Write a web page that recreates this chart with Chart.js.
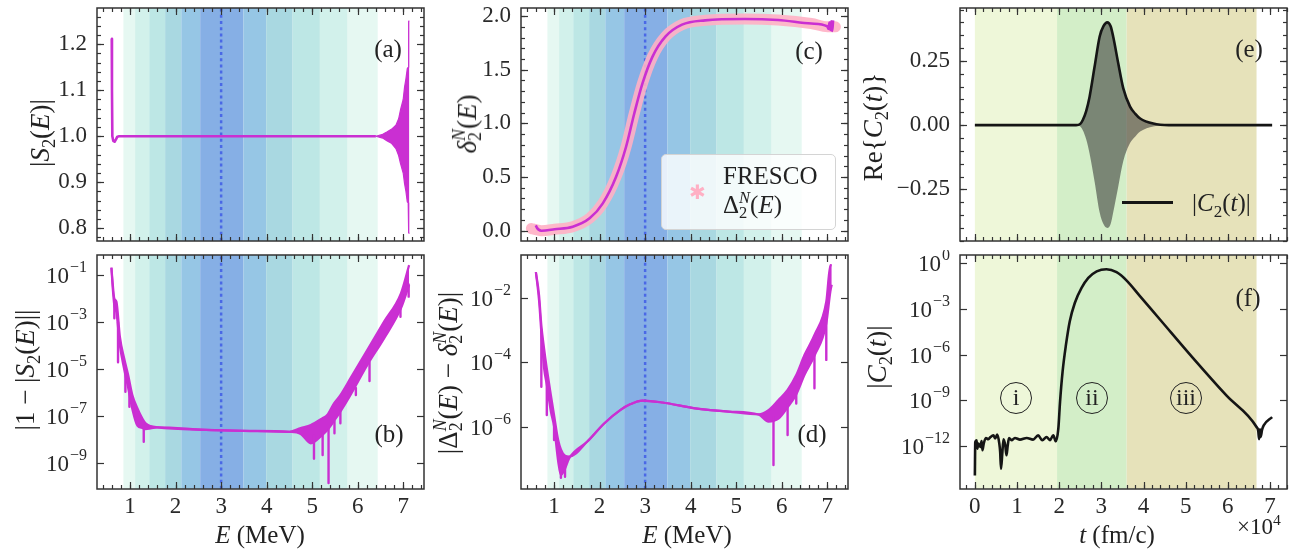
<!DOCTYPE html>
<html>
<head>
<meta charset="utf-8">
<script src="https://cdn.jsdelivr.net/npm/chart.js@4.4.0/dist/chart.umd.min.js"></script>
<style>
  body { margin: 0; width: 1295px; height: 550px; position: relative; overflow: hidden; background: #fff;
         font-family: 'Liberation Serif', serif; color: #222; }
  canvas { position: absolute; }
  .t { position: absolute; white-space: nowrap; font-size: 25px; line-height: 1; transform: translate(-50%, -50%); }
  .r { transform: translate(-50%, -50%) rotate(-90deg); font-size: 27px; }
  .l { transform: translate(0, -50%); }
  sub, sup { font-size: 0.68em; line-height: 0; }
  .ss { display: inline-block; font-size: 0.66em; line-height: 0.9; vertical-align: -0.3em; }
  .ss span { display: block; }
  .circ { position: absolute; width: 30px; height: 30px; border: 1.4px solid #222; border-radius: 50%;
          transform: translate(-50%, -50%); font-size: 24px; line-height: 29px; text-align: center; }
  .leg { position: absolute; left: 661px; top: 154px; width: 173px; height: 74px; border: 1px solid #d4d4d4;
         border-radius: 5px; background: rgba(255,255,255,0.8); }
</style>
</head>
<body>
<script>
// ---------- shared ----------
const MAG = '#ca2fd2';
const PINK = 'rgba(255,176,196,0.9)';
const DOT = '#4a68e6';
const E0 = 3.0;

// shaded energy windows
const bandEdges = [0.853, 1.11, 1.42, 1.77, 2.125, 2.54, 3.49, 3.99, 4.57, 5.17, 5.78, 6.44];
const bandColors = ['#e6f8f2', '#d2f1eb', '#bde7e5', '#a9d8e1', '#96c6e5', '#86afe5',
                    '#96c6e5', '#a9d8e1', '#bde7e5', '#d2f1eb', '#e6f8f2'];
// time regions (units of 1e4 fm/c)
const tEdges = [0, 1.95, 3.6, 6.68];
const tColors = ['#eef7d9', '#d3eec8', '#e6e2ba'];

const energyTicks = [1, 2, 3, 4, 5, 6, 7];
const energyTickLabels = ['1', '2', '3', '4', '5', '6', '7'];
const timeTicks = [0, 1, 2, 3, 4, 5, 6, 7];
const timeTickLabels = ['0', '1', '2', '3', '4', '5', '6', '7'];

// ---------- (a) |S2(E)| ----------
const aE = [0.597, 0.602, 0.61, 0.63, 0.66, 0.69, 0.72, 0.76, 6.40];
const aS = [1.212, 1.10, 1.0, 0.99, 0.988, 0.993, 0.999, 1.0, 1.0];
const aBandE = [6.40, 6.55, 6.64, 6.74, 6.84, 6.90, 6.94, 7.00, 7.03, 7.06, 7.09, 7.11, 7.12, 7.135];
const aHi = [1.0, 1.004, 1.009, 1.015, 1.024, 1.038, 1.057, 1.08, 1.107, 1.125, 1.147, 1.15, 1.25, 1.251];
const aLo = [1.0, 0.996, 0.990, 0.985, 0.973, 0.958, 0.941, 0.92, 0.897, 0.88, 0.857, 0.855, 0.79, 0.788];
const aTicks = [0.8, 0.9, 1.0, 1.1, 1.2];
const aTickLabels = ['0.8', '0.9', '1.0', '1.1', '1.2'];

// ---------- (b) |1-|S2(E)|| (decade exponents) ----------
const bE = [0.59, 0.62, 0.654, 0.70, 0.776, 0.87, 0.958, 1.05, 1.16, 1.27, 1.34, 1.45, 1.6, 2.67, 3.5, 4.5,
            4.75, 4.97, 5.22, 5.33, 5.48, 5.62, 5.84, 6.21, 6.58, 6.95, 7.13];
const bHiExp = [-0.69, -1.40, -2.0, -2.13, -3.62, -4.54, -5.25, -6.1, -6.66, -7.1, -7.3, -7.42, -7.47, -7.58, -7.62, -7.66,
                -7.5, -7.37, -7.09, -6.95, -6.45, -6.1, -5.39, -4.19, -2.98, -1.78, -0.58];
const bLoExp = [-0.69, -1.6, -2.3, -2.6, -4.0, -5.0, -5.8, -6.7, -7.4, -7.5, -7.55, -7.52, -7.47, -7.58, -7.62, -7.66,
                -7.75, -8.15, -7.8, -7.6, -7.2, -6.8, -6.1, -4.83, -3.69, -2.42, -1.42];
const bSpikeE = [0.654, 0.735, 0.897, 0.985, 1.30, 5.04, 5.23, 5.36, 5.49, 5.62, 5.96, 6.26, 6.94, 7.12];
const bSpikeTop = [-2.2, -3.0, -5.0, -5.9, -7.4, -7.8, -7.7, -7.5, -7.2, -6.8, -5.8, -4.7, -2.4, -1.4];
const bSpikeBot = [-2.84, -4.71, -5.96, -6.6, -8.08, -8.80, -8.65, -9.84, -7.72, -7.3, -6.1, -5.5, -2.77, -1.92];
const bTicks = [1e-9, 1e-7, 1e-5, 1e-3, 1e-1];
const bTickExps = ['\u22129', '\u22127', '\u22125', '\u22123', '\u22121'];

// ---------- (c) delta_2^N(E) ----------
const cE = [0.597, 0.62, 0.66, 0.72, 1.01, 1.41, 1.78, 2.07, 2.36, 2.58, 2.76, 2.94, 3.16, 3.45, 3.81, 4.32,
            5.19, 5.92, 6.65, 7.00, 7.03, 7.05, 7.07, 7.09, 7.11, 7.13];
const cD = [0.05, 0.03, 0.01, 0.0, 0.013, 0.037, 0.115, 0.255, 0.50, 0.78, 1.09, 1.37, 1.62, 1.81, 1.92, 1.96,
            1.973, 1.963, 1.93, 1.905, 1.88, 1.94, 1.87, 1.95, 1.86, 1.96];
const frescoE = [0.50, 0.60, 0.72, 1.01, 1.41, 1.78, 2.07, 2.36, 2.58, 2.76, 2.94, 3.16, 3.45, 3.81, 4.32,
                 5.19, 5.92, 6.65, 7.01, 7.18];
const frescoD = [0.02, 0.01, 0.0, 0.013, 0.037, 0.115, 0.255, 0.50, 0.78, 1.09, 1.37, 1.62, 1.81, 1.92, 1.96,
                 1.973, 1.963, 1.93, 1.90, 1.90];
const cTicks = [0, 0.5, 1.0, 1.5, 2.0];
const cTickLabels = ['0.0', '0.5', '1.0', '1.5', '2.0'];

// ---------- (d) |Delta - delta| (decade exponents) ----------
const dE = [0.60, 0.67, 0.72, 0.78, 0.84, 0.93, 1.0, 1.09, 1.15, 1.24, 1.33, 1.73, 2.10, 2.46, 2.68, 2.94, 3.38,
            4.10, 4.83, 5.49, 5.71, 5.93, 6.13, 6.32, 6.50, 6.72, 6.98, 7.07, 7.10];
const dHiExp = [-1.21, -1.92, -2.85, -3.57, -4.19, -5.02, -5.64, -6.41, -6.70, -6.90, -6.93, -6.46, -5.90, -5.48, -5.30,
                -5.19, -5.25, -5.43, -5.53, -5.62, -5.49, -5.17, -4.86, -4.40, -3.78, -3.16, -2.12, -0.99, -1.0];
const dLoExp = [-1.21, -2.10, -3.10, -4.19, -4.70, -5.54, -6.00, -7.08, -7.50, -7.30, -6.98, -6.46, -5.90, -5.48, -5.30,
                -5.19, -5.25, -5.43, -5.53, -5.62, -5.84, -5.75, -5.40, -5.00, -4.40, -3.80, -2.80, -1.81, -1.6];
const dSpikeE = [0.72, 0.84, 1.0, 1.15, 1.24, 5.82, 6.13, 6.32, 6.72, 6.98];
const dSpikeTop = [-3.0, -4.5, -5.9, -7.2, -7.1, -5.7, -5.3, -4.9, -3.7, -2.7];
const dSpikeBot = [-4.76, -5.64, -6.41, -7.58, -7.55, -7.19, -6.26, -5.28, -4.81, -3.93];
const dTicks = [1e-6, 1e-4, 1e-2];
const dTickExps = ['\u22126', '\u22124', '\u22122'];

// ---------- (e) Re{C2(t)} and |C2(t)| ----------
const eT = [0.0, 2.40, 2.50, 2.56, 2.64, 2.72, 2.84, 2.96, 3.05, 3.14, 3.22, 3.28, 3.40, 3.52, 3.68, 3.80, 3.92, 4.23, 4.6, 7.05];
const eAbs = [0, 0, 0.005, 0.02, 0.055, 0.11, 0.228, 0.345, 0.385, 0.40, 0.385, 0.345, 0.241, 0.143, 0.072, 0.045, 0.026, 0.006, 0, 0];
const eReLo = [0, 0, -0.005, -0.02, -0.055, -0.11, -0.22, -0.34, -0.385, -0.40, -0.385, -0.34, -0.24, -0.14, -0.07, -0.045, -0.025, -0.005, 0, 0];
const reTicks = [-0.25, 0, 0.25];
const reTickLabels = ['\u22120.25', '0.00', '0.25'];

// ---------- (f) |C2(t)| (decade exponents) ----------
const fT = [0.0, 0.0095, 0.04, 0.06, 0.08, 0.13, 0.16, 0.18, 0.21, 0.26, 0.32, 0.37, 0.44, 0.48, 0.53, 0.58, 0.60, 0.62,
            0.65, 0.68, 0.72, 0.75, 0.78, 0.81, 0.87, 0.95, 1.07, 1.23, 1.38, 1.50, 1.60, 1.70, 1.78, 1.86, 1.92,
            1.98, 2.02, 2.08, 2.16, 2.25, 2.37, 2.53, 2.69, 2.89, 3.12, 3.36, 3.60, 3.91, 4.39, 5.18, 5.97,
            6.68, 6.72, 6.74, 6.76, 6.78, 6.81, 6.85, 7.05];
const fExp = [-13.93, -11.74, -11.62, -12.17, -11.84, -12.06, -11.68, -12.28, -11.84, -11.47, -11.56, -11.41, -11.30,
              -11.51, -11.25, -11.84, -12.39, -13.49, -12.50, -11.56, -11.95, -12.61, -11.95, -11.47, -11.62, -11.47,
              -11.58, -11.47, -11.58, -11.30, -11.62, -11.41, -11.62, -11.30, -11.69,
              -10.85, -9.10, -7.13, -5.37, -3.83, -2.62, -1.63, -0.97, -0.54, -0.40, -0.60, -1.15, -2.15, -3.70,
              -6.25, -8.70, -10.75, -11.0, -11.55, -10.9, -11.4, -10.95, -10.65, -10.1];
const fTicks = [1e-12, 1e-9, 1e-6, 1e-3, 1];
const fTickExps = ['\u221212', '\u22129', '\u22126', '\u22123', '0'];

// ---------- helpers ----------
const xy = (xs, ys) => xs.map((x, i) => ({ x: x, y: ys[i] }));
const xyExp = (xs, es) => xs.map((x, i) => ({ x: x, y: Math.pow(10, es[i]) }));
function spikes(xs, tops, bots, log) {
  const out = [];
  const f = v => (log ? Math.pow(10, v) : v);
  xs.forEach((x, i) => { out.push({ x: x, y: f(tops[i]) }, { x: x, y: f(bots[i]) }, { x: x, y: null }); });
  return out;
}
function steps(a, b, d) {
  const out = [];
  for (let v = a; v <= b + 1e-9; v += d) out.push(Math.round(v * 1000) / 1000);
  return out;
}
const energyMinor = steps(0.4, 7.4, 0.2);
const timeMinor = steps(-0.2, 7.4, 0.2);

const FONT = "'Liberation Serif', serif";
Chart.defaults.font.family = FONT;
Chart.defaults.font.size = 23;
Chart.defaults.color = '#2a2a2a';

const bandsPlugin = {
  id: 'bands',
  beforeDatasetsDraw(chart, args, o) {
    const { ctx, chartArea: a, scales: { x } } = chart;
    ctx.save();
    ctx.beginPath(); ctx.rect(a.left, a.top, a.width, a.height); ctx.clip();
    for (let i = 0; i < o.colors.length; i++) {
      const p1 = x.getPixelForValue(o.edges[i]), p2 = x.getPixelForValue(o.edges[i + 1]);
      ctx.fillStyle = o.colors[i];
      ctx.fillRect(p1, a.top, p2 - p1, a.height);
    }
    ctx.restore();
  }
};

const frameTicks = {
  id: 'frameTicks',
  afterDatasetsDraw(chart, args, o) {
    const { ctx, chartArea: a, scales: { x, y } } = chart;
    ctx.save();
    ctx.strokeStyle = '#333';
    ctx.lineWidth = 1.2;
    const seg = (x1, y1, x2, y2) => { ctx.beginPath(); ctx.moveTo(x1, y1); ctx.lineTo(x2, y2); ctx.stroke(); };
    const xs = (vals, len) => vals.forEach(v => {
      if (v < x.min || v > x.max) return;
      const p = Math.round(x.getPixelForValue(v)) + 0.5;
      seg(p, a.bottom, p, a.bottom - len); seg(p, a.top, p, a.top + len);
    });
    const ys = (vals, len) => vals.forEach(v => {
      if (v < y.min || v > y.max) return;
      const p = Math.round(y.getPixelForValue(v)) + 0.5;
      seg(a.left, p, a.left + len, p); seg(a.right, p, a.right - len, p);
    });
    xs(o.xMinor || [], 4);
    xs(x.ticks.map(t => t.value), 7);
    ys(o.yMinor || [], 4);
    ys(y.ticks.map(t => t.value), 7);
    ctx.lineWidth = 1.5;
    ctx.strokeRect(a.left, a.top, a.width, a.height);
    ctx.restore();
  }
};

// "10^n" labels for log axes, placed at the scale's own tick pixels
const powLabels = {
  id: 'powLabels',
  afterDraw(chart, args, o) {
    if (!o.exps) return;
    const { ctx, chartArea: a, scales: { y } } = chart;
    ctx.save();
    ctx.fillStyle = '#2a2a2a';
    ctx.textAlign = 'left';
    ctx.textBaseline = 'alphabetic';
    y.ticks.forEach((t, i) => {
      const p = y.getPixelForValue(t.value);
      ctx.font = '16px ' + FONT;
      const we = ctx.measureText(o.exps[i]).width;
      ctx.font = '23px ' + FONT;
      const wb = ctx.measureText('10').width;
      const right = a.left - 10;
      ctx.fillText('10', right - we - wb - 1, p + 8);
      ctx.font = '16px ' + FONT;
      ctx.fillText(o.exps[i], right - we, p - 3);
    });
    ctx.restore();
  }
};

function panel(cell, area, c) {
  const cv = document.createElement('canvas');
  cv.width = cell.w; cv.height = cell.h;
  cv.style.left = cell.x + 'px'; cv.style.top = cell.y + 'px';
  document.body.appendChild(cv);
  const axisX = {
    type: 'linear', min: c.xMin, max: c.xMax,
    afterBuildTicks: s => { s.ticks = c.xTicks.map(v => ({ value: v })); },
    ticks: { display: c.xLabels, callback: (v, i) => c.xTickLabels[i], padding: 4, maxRotation: 0, autoSkip: false },
    grid: { display: false, drawTicks: false }, border: { display: false },
    afterFit: s => { s.height = cell.y + cell.h - area.b; s.paddingLeft = 0; s.paddingRight = 0; }
  };
  const axisY = {
    type: c.yType, min: c.yMin, max: c.yMax,
    afterBuildTicks: s => { s.ticks = c.yTicks.map(v => ({ value: v })); },
    ticks: { display: !c.yExps, callback: (v, i) => (c.yTickLabels ? c.yTickLabels[i] : ''), padding: 10, autoSkip: false },
    grid: { display: false, drawTicks: false }, border: { display: false },
    afterFit: s => { s.width = area.l - cell.x; s.paddingTop = 0; s.paddingBottom = 0; }
  };
  return new Chart(cv, {
    type: 'line',
    data: { datasets: c.datasets },
    options: {
      responsive: false, animation: false, devicePixelRatio: 1,
      layout: { padding: { left: 0, top: area.t - cell.y, right: cell.x + cell.w - area.r, bottom: 0 } },
      elements: { point: { radius: 0 }, line: { borderJoinStyle: 'round' } },
      plugins: {
        legend: { display: false }, tooltip: { enabled: false },
        bands: { edges: c.bandEdges, colors: c.bandColors },
        frameTicks: { xMinor: c.xMinor, yMinor: c.yMinor },
        powLabels: { exps: c.yExps }
      },
      scales: { x: axisX, y: axisY }
    },
    plugins: [bandsPlugin, frameTicks, powLabels]
  });
}

const vline = (ymin, ymax) => ({
  data: [{ x: E0, y: ymin }, { x: E0, y: ymax }], borderColor: DOT, borderWidth: 2.5,
  borderDash: [3, 3.2], fill: false, order: 10
});
const band = (hi, lo, col, w, mono) => ([
  { data: hi, borderColor: col, borderWidth: w, backgroundColor: col, fill: '+1', order: 3,
    cubicInterpolationMode: mono ? 'monotone' : 'default' },
  { data: lo, borderColor: col, borderWidth: w, fill: false, order: 3,
    cubicInterpolationMode: mono ? 'monotone' : 'default' }
]);

const colE = { xMin: 0.273, xMax: 7.457, xTicks: energyTicks, xTickLabels: energyTickLabels, xMinor: energyMinor,
               bandEdges: bandEdges, bandColors: bandColors };
const colT = { xMin: -0.3525, xMax: 7.4025, xTicks: timeTicks, xTickLabels: timeTickLabels, xMinor: timeMinor,
               bandEdges: tEdges, bandColors: tColors };

// (a)
panel({ x: 0, y: 0, w: 430, h: 250 }, { l: 97, t: 8, r: 424, b: 241 }, Object.assign({}, colE, {
  xLabels: false, yType: 'linear', yMin: 0.772, yMax: 1.279, yTicks: aTicks, yTickLabels: aTickLabels,
  yMinor: steps(0.78, 1.26, 0.02),
  datasets: [
    vline(0.772, 1.279),
    ...band(xy(aBandE, aHi), xy(aBandE, aLo), MAG, 1.2, false),
    { data: xy(aE, aS), borderColor: MAG, borderWidth: 2.6, fill: false, order: 1 }
  ]
}));

// (b)
panel({ x: 0, y: 250, w: 430, h: 300 }, { l: 97, t: 255, r: 424, b: 489 }, Object.assign({}, colE, {
  xLabels: true, yType: 'logarithmic', yMin: Math.pow(10, -10.09), yMax: Math.pow(10, -0.15),
  yTicks: bTicks, yExps: bTickExps,
  datasets: [
    vline(Math.pow(10, -10.09), Math.pow(10, -0.15)),
    ...band(xyExp(bE, bHiExp), xyExp(bE, bLoExp), MAG, 2.2, true),
    { data: spikes(bSpikeE, bSpikeTop, bSpikeBot, true), borderColor: MAG, borderWidth: 2.4, fill: false, order: 1 }
  ]
}));

// (c)
panel({ x: 430, y: 0, w: 430, h: 250 }, { l: 521, t: 8, r: 848, b: 241 }, Object.assign({}, colE, {
  xLabels: false, yType: 'linear', yMin: -0.096, yMax: 2.075, yTicks: cTicks, yTickLabels: cTickLabels,
  yMinor: steps(-0.0, 2.0, 0.1),
  datasets: [
    vline(-0.096, 2.075),
    { data: xy(frescoE, frescoD), borderColor: PINK, borderWidth: 11, borderCapStyle: 'round', fill: false,
      cubicInterpolationMode: 'monotone', order: 5 },
    { data: xy(cE, cD), borderColor: MAG, borderWidth: 2.6, fill: false, cubicInterpolationMode: 'monotone', order: 1 }
  ]
}));

// (d)
panel({ x: 430, y: 250, w: 430, h: 300 }, { l: 521, t: 255, r: 848, b: 489 }, Object.assign({}, colE, {
  xLabels: true, yType: 'logarithmic', yMin: Math.pow(10, -7.93), yMax: Math.pow(10, -0.68),
  yTicks: dTicks, yExps: dTickExps,
  datasets: [
    vline(Math.pow(10, -7.93), Math.pow(10, -0.68)),
    ...band(xyExp(dE, dHiExp), xyExp(dE, dLoExp), MAG, 2.2, true),
    { data: spikes(dSpikeE, dSpikeTop, dSpikeBot, true), borderColor: MAG, borderWidth: 2.4, fill: false, order: 1 }
  ]
}));

// (e)
panel({ x: 860, y: 0, w: 435, h: 250 }, { l: 960, t: 8, r: 1287, b: 241 }, Object.assign({}, colT, {
  xLabels: false, yType: 'linear', yMin: -0.451, yMax: 0.456, yTicks: reTicks, yTickLabels: reTickLabels,
  yMinor: steps(-0.45, 0.45, 0.05),
  datasets: [
    ...band(xy(eT, eAbs), xy(eT, eReLo), 'rgba(50,50,50,0.55)', 0, true),
    { data: xy(eT, eAbs), borderColor: '#151515', borderWidth: 2.6, fill: false, cubicInterpolationMode: 'monotone', order: 1 }
  ]
}));

// (f)
panel({ x: 860, y: 250, w: 435, h: 300 }, { l: 960, t: 255, r: 1287, b: 489 }, Object.assign({}, colT, {
  xLabels: true, yType: 'logarithmic', yMin: Math.pow(10, -14.82), yMax: Math.pow(10, 0.53),
  yTicks: fTicks, yExps: fTickExps,
  datasets: [
    { data: xyExp(fT, fExp), borderColor: '#151515', borderWidth: 2.6, fill: false, cubicInterpolationMode: 'monotone', order: 1 }
  ]
}));
</script>

<!-- axis titles and annotations -->
<div class="t r" style="left:40px;top:133px">|<i>S</i><sub>2</sub>(<i>E</i>)|</div>
<div class="t r" style="left:25px;top:370px">|1 − |<i>S</i><sub>2</sub>(<i>E</i>)||</div>
<div class="t" style="left:260px;top:534px"><i>E</i> (MeV)</div>

<div class="t r" style="left:467px;top:124px"><i>δ</i><span class="ss"><span><i>N</i></span><span>2</span></span>(<i>E</i>)</div>
<div class="t r" style="left:448px;top:373px">|Δ<span class="ss"><span><i>N</i></span><span>2</span></span>(<i>E</i>) − <i>δ</i><span class="ss"><span><i>N</i></span><span>2</span></span>(<i>E</i>)|</div>
<div class="t" style="left:687px;top:534px"><i>E</i> (MeV)</div>

<div class="t r" style="left:873px;top:127px">Re{<i>C</i><sub>2</sub>(<i>t</i>)}</div>
<div class="t r" style="left:877px;top:357px">|<i>C</i><sub>2</sub>(<i>t</i>)|</div>
<div class="t" style="left:1117px;top:534px"><i>t</i> (fm/c)</div>
<div class="t" style="left:1259px;top:526px;font-size:23px">×10<sup>4</sup></div>

<div class="t" style="left:388px;top:48px">(a)</div>
<div class="t" style="left:389px;top:433px">(b)</div>
<div class="t" style="left:809px;top:50px">(c)</div>
<div class="t" style="left:812px;top:433px">(d)</div>
<div class="t" style="left:1249px;top:48px">(e)</div>
<div class="t" style="left:1248px;top:297px">(f)</div>

<div class="leg"></div>
<div class="t" style="left:697px;top:192px;color:#ffb0c4;font-size:20px">✱</div>
<div class="t l" style="left:723px;top:175px">FRESCO</div>
<div class="t l" style="left:723px;top:206px">Δ<span class="ss"><span><i>N</i></span><span>2</span></span>(<i>E</i>)</div>

<div style="position:absolute;left:1122px;top:201px;width:51px;height:2.6px;background:#151515"></div>
<div class="t l" style="left:1192px;top:202px">|<i>C</i><sub>2</sub>(<i>t</i>)|</div>

<div class="circ" style="left:1016px;top:398px">i</div>
<div class="circ" style="left:1092px;top:398px">ii</div>
<div class="circ" style="left:1186px;top:398px">iii</div>
</body>
</html>
